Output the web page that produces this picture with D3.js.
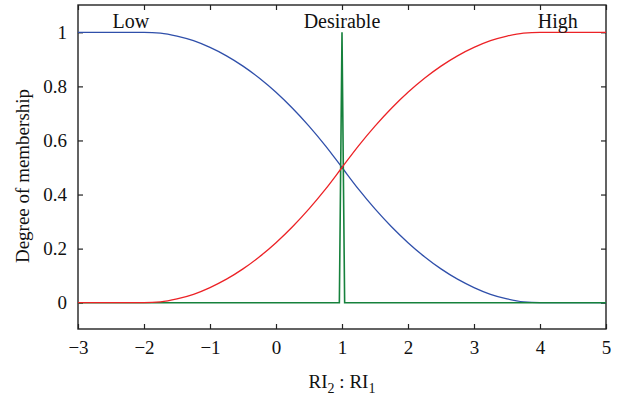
<!DOCTYPE html>
<html>
<head>
<meta charset="utf-8">
<script src="https://cdn.jsdelivr.net/npm/d3@7"></script>
<style>
  body { margin: 0; background: #fff; }
  svg text { font-family: "Liberation Serif", "DejaVu Serif", serif; fill: #111; }
</style>
</head>
<body>
<div id="chart"></div>
<script>
// valori
const xValues = [-3, -2.5, -2, -1.75, -1.5, -1.25, -1, -0.75, -0.5, -0.25, 0, 0.25, 0.5, 0.75, 1,
                 1.25, 1.5, 1.75, 2, 2.25, 2.5, 2.75, 3, 3.25, 3.5, 3.75, 4, 4.5, 5];
const lowValues = [1, 1, 1, 0.997, 0.986, 0.969, 0.944, 0.913, 0.875, 0.83, 0.778, 0.719, 0.653, 0.58, 0.5,
                   0.42, 0.347, 0.281, 0.222, 0.17, 0.125, 0.087, 0.056, 0.031, 0.014, 0.003, 0, 0, 0];
const highValues = [0, 0, 0, 0.003, 0.014, 0.031, 0.056, 0.087, 0.125, 0.17, 0.222, 0.281, 0.347, 0.42, 0.5,
                    0.58, 0.653, 0.719, 0.778, 0.83, 0.875, 0.913, 0.944, 0.969, 0.986, 0.997, 1, 1, 1];
// triangolo stretto attorno a 1
const desirableX = [-3, 0.96, 1, 1.04, 5];
const desirableValues = [0, 0, 1, 0, 0];

const xTicks = [-3, -2, -1, 0, 1, 2, 3, 4, 5];
const yTicks = [0, 0.2, 0.4, 0.6, 0.8, 1];

const setLabels = ["Low", "Desirable", "High"];
const setLabelX = [-2.2, 1, 4.27];

const WIDTH = 620, HEIGHT = 400;
const margin = { top: 5, right: 14, bottom: 71, left: 78 };
const innerW = WIDTH - margin.left - margin.right;
const innerH = HEIGHT - margin.top - margin.bottom;

const svg = d3.select("#chart").append("svg")
    .attr("width", WIDTH).attr("height", HEIGHT);
const g = svg.append("g").attr("transform", `translate(${margin.left},${margin.top})`);

const x = d3.scaleLinear().domain([-3, 5]).range([0, innerW]);
// 0 -> 297.7, 1 -> 27.3 (dentro il riquadro)
const y = d3.scaleLinear().domain([0, 1]).range([297.7, 27.3]);

const axisColor = "#222";
const tickLen = 5;

function styleAxis(sel) {
    sel.select(".domain").remove();
    sel.selectAll(".tick line").attr("stroke", axisColor).attr("stroke-width", 1.2);
    sel.selectAll(".tick text").style("font-size", "19px");
}

g.append("g").attr("transform", `translate(0,${innerH})`)
    .call(d3.axisBottom(x).tickValues(xTicks).tickSize(-tickLen).tickPadding(12)
        .tickFormat(d => d < 0 ? "\u2212" + Math.abs(d) : d))
    .call(styleAxis);
g.append("g")
    .call(d3.axisTop(x).tickValues(xTicks).tickSize(-tickLen).tickFormat(""))
    .call(styleAxis);
g.append("g")
    .call(d3.axisLeft(y).tickValues(yTicks).tickSize(-tickLen).tickPadding(11)
        .tickFormat(d3.format("~g")))
    .call(styleAxis);
g.append("g").attr("transform", `translate(${innerW},0)`)
    .call(d3.axisRight(y).tickValues(yTicks).tickSize(-tickLen).tickFormat(""))
    .call(styleAxis);

g.selectAll(".tick text").attr("fill", "#111");

// riquadro
g.append("rect")
    .attr("width", innerW).attr("height", innerH)
    .attr("fill", "none").attr("stroke", axisColor).attr("stroke-width", 1.4);

const lineSmooth = d3.line().curve(d3.curveMonotoneX)
    .x(d => x(d[0])).y(d => y(d[1]));
const lineStraight = d3.line().x(d => x(d[0])).y(d => y(d[1]));

g.append("path")
    .datum(xValues.map((v, i) => [v, lowValues[i]]))
    .attr("d", lineSmooth).attr("fill", "none")
    .attr("stroke", "#2f4faa").attr("stroke-width", 1.3);

g.append("path")
    .datum(desirableX.map((v, i) => [v, desirableValues[i]]))
    .attr("d", lineStraight).attr("fill", "none")
    .attr("stroke", "#16813c").attr("stroke-width", 1.6);

g.append("path")
    .datum(xValues.map((v, i) => [v, highValues[i]]))
    .attr("d", lineSmooth).attr("fill", "none")
    .attr("stroke", "#ec2226").attr("stroke-width", 1.3);

g.selectAll("text.set-label")
    .data(setLabels)
    .enter().append("text")
    .attr("class", "set-label")
    .attr("x", (d, i) => x(setLabelX[i]))
    .attr("y", y(1) - 4)
    .attr("text-anchor", "middle")
    .style("font-size", "20px")
    .text(d => d);

// etichette assi
const xLabel = svg.append("text")
    .attr("x", margin.left + x(1))
    .attr("y", 388)
    .attr("text-anchor", "middle")
    .style("font-size", "19px");
xLabel.append("tspan").text("RI");
xLabel.append("tspan").attr("dy", 5).style("font-size", "14px").text("2");
xLabel.append("tspan").attr("dy", -5).text(" : RI");
xLabel.append("tspan").attr("dy", 5).style("font-size", "14px").text("1");

svg.append("text")
    .attr("transform", `translate(29,176) rotate(-90)`)
    .attr("text-anchor", "middle")
    .style("font-size", "19px")
    .text("Degree of membership");
</script>
</body>
</html>
